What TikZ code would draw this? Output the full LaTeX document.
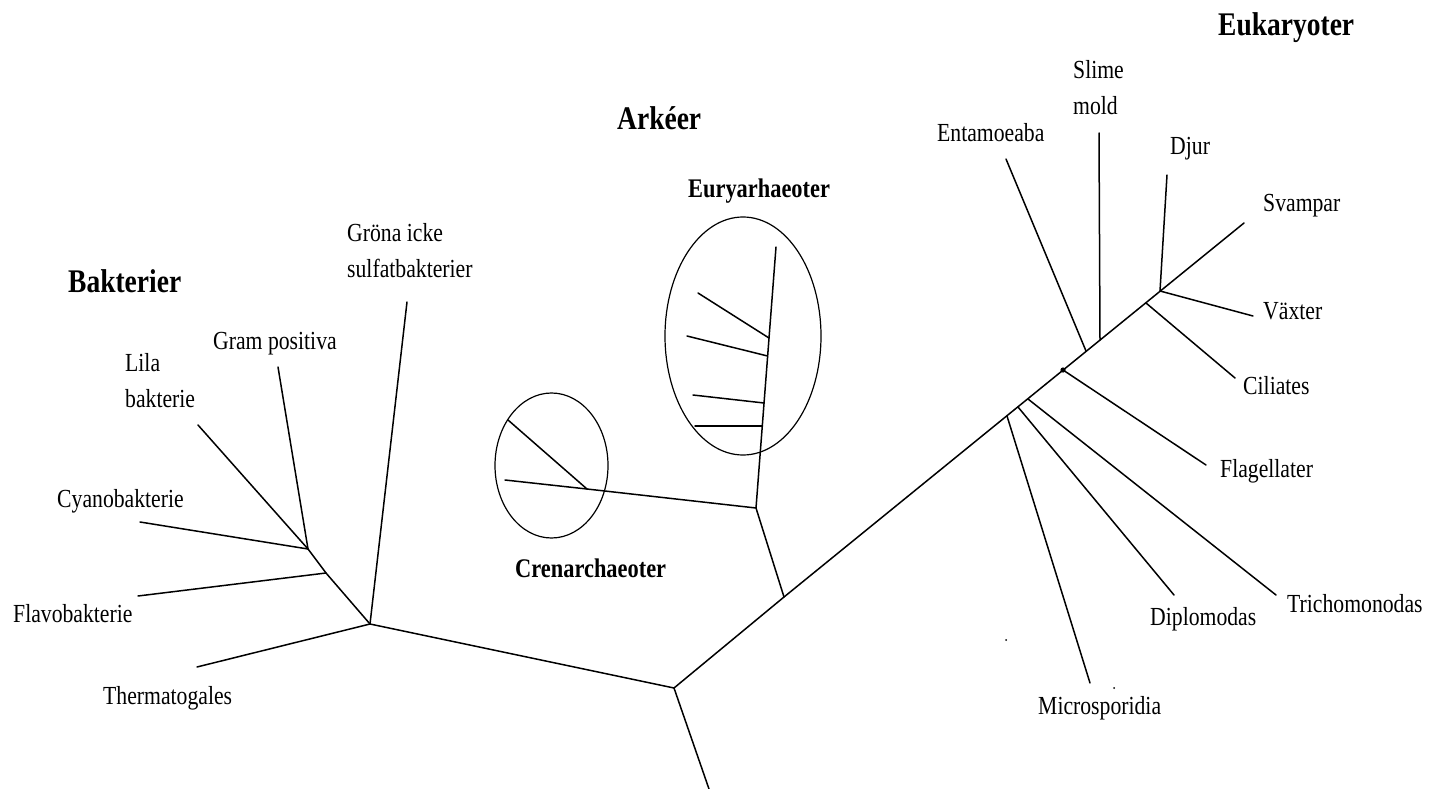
\documentclass[tikz,border=0pt]{standalone}
\usepackage{fontspec}
\setmainfont{Liberation Serif}
\newcommand{\vs}[1]{\scalebox{1}[1.2]{#1}}
\tikzset{
  lbl/.style={font=\fontsize{21.7}{36}\selectfont, inner sep=0pt, anchor=west},
  mlbl/.style={font=\fontsize{21.7}{36}\selectfont, inner sep=0pt, anchor=north west, align=left},
  ttl/.style={font=\fontsize{27.5}{33}\selectfont\bfseries, inner sep=0pt, anchor=west},
  subttl/.style={font=\fontsize{22.4}{27}\selectfont\bfseries, inner sep=0pt, anchor=west},
  br/.style={line width=1.5pt, line cap=round, line join=round},
  ring/.style={line width=1.2pt}
}
\begin{document}
\begin{tikzpicture}[x=1pt,y=-1pt]
\useasboundingbox (0,0) rectangle (1441,789);
% ---------- coordinates ----------
% root
\coordinate (C) at (674,688);
\coordinate (Cbot) at (709,789);
% bacteria
\coordinate (B0) at (370,624);
\coordinate (Bj1) at (326,573);
\coordinate (Bj2) at (308,549);
\coordinate (eLila) at (198,425);
\coordinate (eGram) at (278,367);
\coordinate (eCyano) at (140,522);
\coordinate (eFlavo) at (138,596);
\coordinate (eTherm) at (197,667);
\coordinate (eGrona) at (407,302);
% archaea
\coordinate (A0) at (784,597);
\coordinate (A1) at (756,508);
\coordinate (Etop) at (776,247);
\coordinate (Ej1) at (769,338);
\coordinate (Ej2) at (767.6,356);
\coordinate (Ej3) at (764,403);
\coordinate (Ej4) at (762.3,426);
\coordinate (Ee1) at (698,293);
\coordinate (Ee2) at (687,336);
\coordinate (Ee3) at (693,395);
\coordinate (Ee4) at (695,426);
\coordinate (Cj) at (587,489);
\coordinate (Ce1) at (508,420);
\coordinate (Ce2) at (505,480);
\coordinate (Eury) at (743,336);
\coordinate (Cren) at (551.5,465.5);
% eukaryotes
\coordinate (kMic) at (1007,416);
\coordinate (kDip) at (1018,407);
\coordinate (kTri) at (1028,399);
\coordinate (kFla) at (1063,370);
\coordinate (kEnt) at (1086,351);
\coordinate (kSli) at (1100,340);
\coordinate (kCil) at (1146,303);
\coordinate (kDju) at (1160,291);
\coordinate (eSva) at (1244,223);
\coordinate (eMic) at (1090,683);
\coordinate (eDip) at (1174,595);
\coordinate (eTri) at (1276,595);
\coordinate (eFla) at (1206,465);
\coordinate (eEnt) at (1006,159);
\coordinate (eSli) at (1099,133);
\coordinate (eCil) at (1235,378);
\coordinate (eDju) at (1167,175);
\coordinate (eVax) at (1253,316);
\coordinate (dot1) at (1006,640);
\coordinate (dot2) at (1114,688);

% ---------- branches ----------
\draw[br] (Cbot) -- (C) -- (B0);
\draw[br] (C) -- (A0) -- (eSva);
% bacteria
\draw[br] (eLila) -- (Bj2) -- (Bj1) -- (B0);
\draw[br] (eGram) -- (Bj2);
\draw[br] (eCyano) -- (Bj2);
\draw[br] (eFlavo) -- (Bj1);
\draw[br] (eTherm) -- (B0);
\draw[br] (eGrona) -- (B0);
% archaea
\draw[br] (A0) -- (A1) -- (Etop);
\draw[br] (Ee1) -- (Ej1);
\draw[br] (Ee2) -- (Ej2);
\draw[br] (Ee3) -- (Ej3);
\draw[br] (Ee4) -- (Ej4);
\draw[br] (A1) -- (Cj) -- (Ce2);
\draw[br] (Ce1) -- (Cj);
\draw[ring] (Eury) ellipse [x radius=78, y radius=119];
\draw[ring] (Cren) ellipse [x radius=56.5, y radius=72.5];
% eukaryotes
\draw[br] (kMic) -- (eMic);
\draw[br] (kDip) -- (eDip);
\draw[br] (kTri) -- (eTri);
\draw[br] (kFla) -- (eFla);
\draw[br] (kEnt) -- (eEnt);
\draw[br] (kSli) -- (eSli);
\draw[br] (kCil) -- (eCil);
\draw[br] (kDju) -- (eDju);
\draw[br] (kDju) -- (eVax);
\fill (kFla) circle (2.6);
\fill (dot1) circle (1);
\fill (dot2) circle (1);

% ---------- labels ----------
\node[ttl] (tBak) at (68,281) {\vs{Bakterier}};
\node[ttl] (tArk) at (617,118.5) {\vs{Arkéer}};
\node[ttl] (tEuk) at (1218,28) {\vs{Eukaryoter}};
\node[subttl] (tEury) at (688,191) {\vs{Euryarhaeoter}};
\node[subttl] (tCren) at (515,568) {\vs{Crenarchaeoter}};

\node[lbl] (lGram) at (213,343.5) {\vs{Gram positiva}};
\node[mlbl] (lLila) at (125,353) {\vs{Lila}\\\vs{bakterie}};
\node[mlbl] (lGrona) at (347,223) {\vs{Gröna icke}\\\vs{sulfatbakterier}};
\node[lbl] (lCyano) at (57,501.5) {\vs{Cyanobakterie}};
\node[lbl] (lFlavo) at (13,614) {\vs{Flavobakterie}};
\node[lbl] (lTherm) at (103,698.5) {\vs{Thermatogales}};

\node[lbl] (lEnt) at (937,133) {\vs{Entamoeaba}};
\node[mlbl] (lSli) at (1073,60) {\vs{Slime}\\\vs{mold}};
\node[lbl] (lDju) at (1170,149) {\vs{Djur}};
\node[lbl] (lSva) at (1263,206) {\vs{Svampar}};
\node[lbl] (lVax) at (1263,311) {\vs{Växter}};
\node[lbl] (lCil) at (1243,386) {\vs{Ciliates}};
\node[lbl] (lFla) at (1220,471.5) {\vs{Flagellater}};
\node[lbl] (lTri) at (1287,603.5) {\vs{Trichomonodas}};
\node[lbl] (lDip) at (1150,619) {\vs{Diplomodas}};
\node[lbl] (lMic) at (1038,708.5) {\vs{Microsporidia}};
\end{tikzpicture}
\end{document}
